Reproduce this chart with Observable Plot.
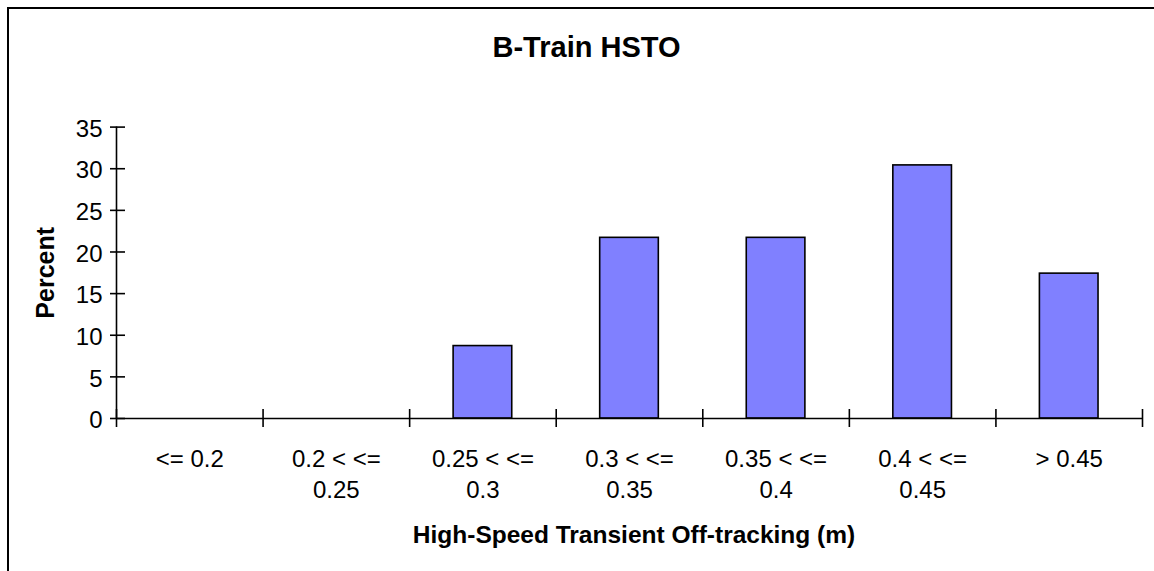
<!DOCTYPE html>
<html><head><meta charset="utf-8">
<script src="https://cdn.jsdelivr.net/npm/d3@7"></script>
<script src="https://cdn.jsdelivr.net/npm/@observablehq/plot@0.6"></script>
<style>
html,body{margin:0;padding:0;background:#fff;overflow:hidden;}
#wrap{width:1154px;height:571px;overflow:hidden;background:#fff;}
#wrap svg{display:block;}
</style></head><body><div id="wrap"></div>
<script>
const categories = ["<= 0.2", "0.2 < <=\n0.25", "0.25 < <=\n0.3", "0.3 < <=\n0.35", "0.35 < <=\n0.4", "0.4 < <=\n0.45", "> 0.45"];
const percents = [0, 0, 8.7, 21.7, 21.7, 30.4, 17.4];
const yTicks = [0, 5, 10, 15, 20, 25, 30, 35];
const title = "B-Train HSTO";
const xLabel = "High-Speed Transient Off-tracking (m)";
const yLabel = "Percent";

const W = 1154, H = 571, mL = 116, mR = 12, mT = 126.6, mB = 153;
const plotW = W - mL - mR;
const step = plotW / categories.length;
const data = categories.map((c, i) => ({cat: c, pct: percents[i]}));
const font = "'Liberation Sans', Arial, Helvetica, sans-serif";

const chart = Plot.plot({
  width: W, height: H,
  marginLeft: mL, marginRight: mR, marginTop: mT, marginBottom: mB,
  style: {fontFamily: font, fontSize: "24px", color: "#000", background: "#fff"},
  x: {type: "band", domain: categories, padding: 0, round: false},
  y: {domain: [0, 35]},
  marks: [
    Plot.barY(data.filter(d => d.pct > 0), {x: "cat", y: "pct", fill: "#8080FF", stroke: "#000", strokeWidth: 1.6, insetLeft: 0.3 * step, insetRight: 0.3 * step}),
    Plot.ruleY([0], {stroke: "#000", strokeWidth: 1.6}),
    Plot.ruleX([categories[0]], {x: d => d, dx: -step / 2, y1: 0, y2: 35, stroke: "#000", strokeWidth: 1.6}),
    Plot.ruleY(yTicks, {y: d => d, insetLeft: -6, insetRight: plotW - 9, stroke: "#000", strokeWidth: 1.6}),
    Plot.ruleX(categories, {x: d => d, dx: -step / 2, y1: 0, y2: 0, insetTop: -9, insetBottom: -9, stroke: "#000", strokeWidth: 1.6}),
    Plot.ruleX([categories[categories.length - 1]], {x: d => d, dx: step / 2, y1: 0, y2: 0, insetTop: -9, insetBottom: -9, stroke: "#000", strokeWidth: 1.6}),
    Plot.axisY({ticks: yTicks, tickSize: 0, tickPadding: 14, fontSize: 24, label: null, dy: 2}),
    Plot.axisX({tickSize: 0, tickPadding: 26, fontSize: 24, lineHeight: 1.3, label: null}),
    Plot.text([title], {frameAnchor: "top", lineAnchor: "top", dx: 586 - (mL + plotW / 2), dy: 36.4 - mT, fontSize: 29, fontWeight: "bold", fill: "#000"}),
    Plot.text([xLabel], {frameAnchor: "bottom", lineAnchor: "top", dx: 633.5 - (mL + plotW / 2), dy: 524.6 - (H - mB), fontSize: 24.5, fontWeight: "bold", fill: "#000"}),
    Plot.text([yLabel], {frameAnchor: "left", textAnchor: "middle", lineAnchor: "top", rotate: -90, dx: 36 - mL, fontSize: 25, fontWeight: "bold", fill: "#000"})
  ]
});
// outer chart-area border (left and top edges only are visible in the reference)
d3.select(chart).append("path")
  .attr("d", `M8,${H + 5}V8H${W + 5}`)
  .attr("fill", "none").attr("stroke", "#000").attr("stroke-width", 2);
document.getElementById("wrap").appendChild(chart);
</script>
</body></html>
